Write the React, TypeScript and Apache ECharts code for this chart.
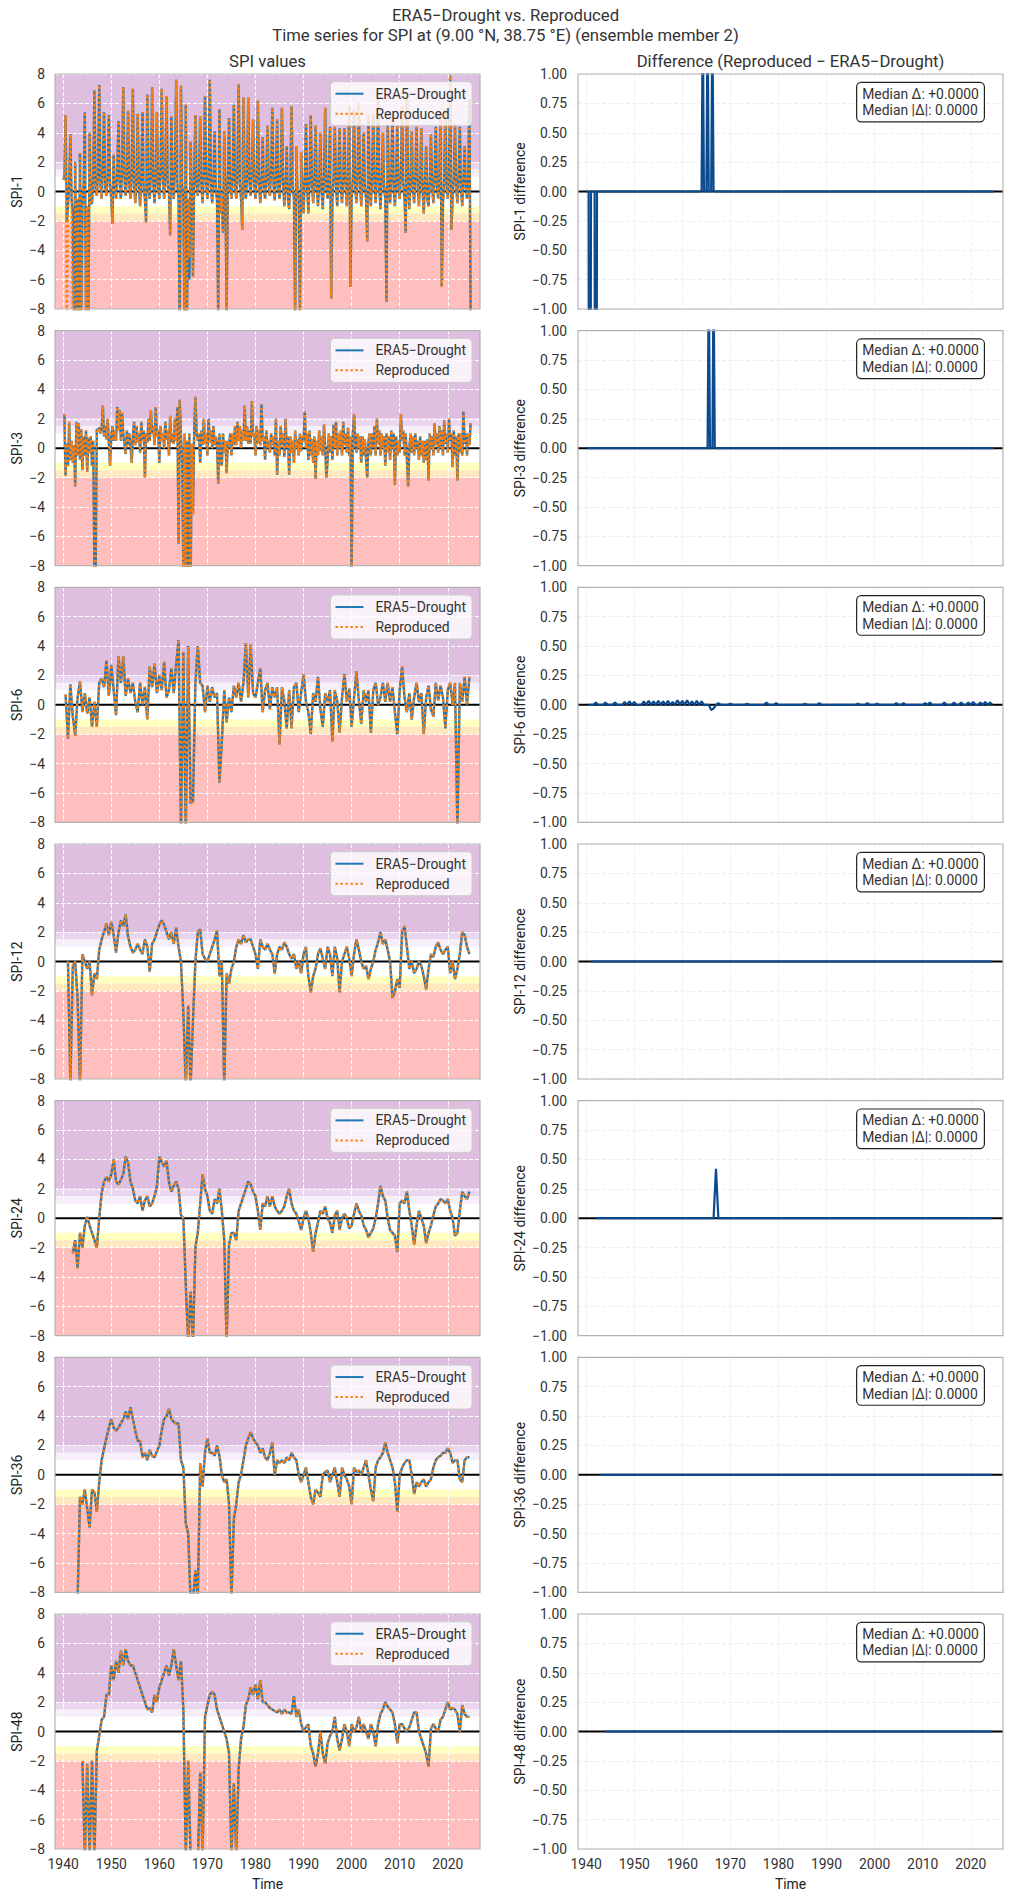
import React, { useEffect, useRef } from "react";
import * as echarts from "echarts";

// ---------- axes / labels ----------
const X_MIN = 1938.3;
const X_MAX = 2026.7;
const YEAR_TICKS = [1940, 1950, 1960, 1970, 1980, 1990, 2000, 2010, 2020];
const SPI_NAMES = ["SPI-1", "SPI-3", "SPI-6", "SPI-12", "SPI-24", "SPI-36", "SPI-48"];
const SERIES_ERA5 = "ERA5−Drought";
const SERIES_REPRO = "Reproduced";
const SUPTITLE =
  "ERA5−Drought vs. Reproduced\nTime series for SPI at (9.00 °N, 38.75 °E) (ensemble member 2)";
const LEFT_TITLE = "SPI values";
const RIGHT_TITLE = "Difference (Reproduced − ERA5−Drought)";
const MEDIAN_TEXT = "Median Δ: +0.0000\nMedian |Δ|: 0.0000";

// SPI category bands [low, high]
const BAND_LIMITS = [
  [2, 8],
  [1.5, 2],
  [1, 1.5],
  [-1.5, -1],
  [-2, -1.5],
  [-8, -2],
];

// ---------- data ----------
// SPI-1: quarterly samples from 1940.00
const SPI1_START = 1940.0;
const SPI1_STEP = 0.25;
const SPI1 = [
  0.8, 1.0, 5.2, -2.0, -1.0, 0.5, 3.9, -0.5, -1.5, -8.5, 2.0, -8.5, -0.5, -8.5, 2.6, -8.5, -1.0, 0.5, 5.4, -8.5,
  -1.0, -8.5, 4.0, -0.8, -0.8, 1.0, 6.9, 0.2, -0.3, 1.2, 7.25, 0.5, -0.5, 1.5, 5.4, 0.3, -0.3, 1.0, 5.2, 0.5,
  -0.5, -2.2, 2.5, 0.2, -0.5, 1.2, 4.8, 0.6, -0.5, 1.5, 7.1, 0.8, -0.3, 1.0, 5.5, 0.5, -0.5, 1.2, 7.0, 0.4,
  -0.8, 0.8, 5.3, 0.3, -1.0, 1.0, 5.4, 0.2, -0.5, -2.1, 6.6, 0.5, -0.5, 1.2, 7.1, 0.6, -0.8, 1.0, 5.4, 0.3,
  -0.5, 1.5, 7.0, 0.8, -0.5, 1.2, 6.5, 0.4, 0.0, -3.0, 5.1, 0.5, -0.5, 1.5, 7.6, 0.5, -0.5, -10, 7.2, 0.5,
  -0.5, -10, 5.9, -8.5, -0.5, -6.0, 3.4, 0.3, -5.8, 1.0, 5.2, 0.5, -0.3, 1.0, 5.1, 0.4, -0.8, 1.2, 6.5, 0.5,
  -0.5, 1.0, 7.6, 0.3, -0.8, 0.8, 4.1, 0.0, -0.5, -8.5, 5.6, -1.5, -0.5, -2.8, 4.1, 0.3, -8.5, 0.5, 5.0, 0.4,
  -0.5, 1.0, 5.9, 0.3, -0.5, 1.2, 7.3, 0.5, -0.5, -2.6, 6.4, 0.3, -0.5, 1.0, 6.4, 0.6, -0.3, 1.3, 4.9, 0.5,
  -0.5, 1.0, 6.2, 0.5, -0.8, 0.8, 3.7, 0.2, -0.5, 1.0, 4.5, 0.4, -0.3, 1.5, 5.7, 0.5, -0.6, 1.0, 4.9, 0.3,
  -0.5, 1.2, 5.7, 0.5, -1.0, 0.5, 3.1, -0.5, -1.2, 0.8, 5.8, 0.2, -0.5, -8.5, 3.1, 0.0, -0.5, -8.5, 2.7, 0.2,
  -1.5, 0.8, 4.6, 0.3, -1.5, 1.0, 5.2, 0.4, -0.8, 0.8, 4.5, 0.3, -1.0, 0.5, 4.0, 0.0, -1.2, 1.0, 5.7, 0.3,
  -0.5, 0.8, 4.4, -7.3, -0.5, 1.0, 4.4, 0.3, -1.0, 1.2, 4.3, 0.2, -0.8, 0.8, 4.3, 0.5, -1.0, 1.0, 5.8, -6.5,
  -0.5, 1.0, 5.6, 0.3, -0.8, 1.2, 6.0, 0.4, -1.0, 0.8, 4.0, 0.2, -0.5, -3.4, 5.2, 0.3, -1.0, 1.0, 5.3, 0.5,
  -0.8, 1.2, 6.3, 0.2, -1.2, 0.8, 4.0, 0.4, -0.5, -7.5, 4.6, 0.5, -0.8, 1.0, 5.3, 0.2, -1.0, 0.8, 4.5, 0.3,
  -0.5, 1.2, 5.8, 0.5, -0.5, -2.8, 6.6, 0.4, -1.2, 0.8, 4.1, 0.2, -0.8, 1.0, 4.4, 0.3, -1.0, 0.8, 4.3, 0.2,
  -1.5, 0.5, 3.1, -0.5, -1.0, 0.8, 3.9, 0.3, -0.8, 1.0, 4.4, 0.4, -0.5, 1.2, 5.4, -6.5, -0.8, 1.0, 5.6, 0.3,
  -0.5, 1.2, 7.9, -2.6, -0.5, 1.0, 4.6, 0.3, -0.8, 1.0, 4.4, 0.2, -1.0, 0.8, 3.1, 0.3, -0.5, 1.0, 6.3, -8.5,
];
const SPI1_DELTA = [
  [1940.75, -7.0],
  [1942.0, -7.5],
  [1964.25, 1.5],
  [1965.25, 1.5],
  [1966.25, 1.5],
];

// SPI-3: quarterly samples from 1940.25
const SPI3_START = 1940.25;
const SPI3_STEP = 0.25;
const SPI3 = [
  2.3, -1.9, 0.3,
  -1.2, 1.8, -0.8, 0.5, -1.0, 0.2, -2.6, 1.8, -0.5, 1.7, -0.8, 1.3, -1.5, 0.8, -0.5, 1.2, -1.6, 0.7, -0.3, 0.8,
  -1.2, 0.5, -8.5, -8.5, 1.3, 1.2, 1.4, 1.0, 1.3, 2.9, 0.8, 1.5, 0.6, 2.0, 0.4, -1.2, 0.8, 1.5, 0.5, 1.2,
  0.5, 2.8, 1.2, 2.6, 0.5, 2.4, 1.0, 0.3, -0.4, 1.2, 0.2, 1.0, 0.3, -1.0, 0.8, 1.8, 0.2, 1.5, 0.4, 1.0,
  -0.3, 1.8, 0.5, 1.2, -2.0, 1.0, 0.4, 2.0, 0.5, 2.6, 1.0, 1.5, 0.2, 2.8, 0.8, 1.2, -1.0, 1.5, 0.5, 1.0,
  0.0, 1.8, 0.6, 1.2, -0.5, 2.2, 0.4, 1.0, 0.3, 2.0, 0.5, 2.8, -6.5, 3.3, 0.8, -1.0, -8.5, 1.0, -10, 0.5,
  -8.5, 1.0, -10, 0.3, -4.5, 1.2, 3.5, 1.0, 0.5, 1.0, -1.0, 1.2, 0.2, 2.0, 0.3, 1.0, -0.5, 2.0, 0.4, 1.2,
  0.0, 1.5, 0.2, 0.8, 0.3, -2.4, 1.0, -0.5, -1.2, 1.0, -0.3, 0.5, -1.7, 0.5, 0.2, 1.0, -0.5, 1.0, 0.2, 1.5,
  0.2, 1.8, 0.5, 1.5, 0.0, 1.2, 0.5, 2.9, 0.5, 1.5, 0.3, 1.2, 0.3, 3.2, 0.8, 1.0, -0.5, 1.5, 0.3, 1.2,
  0.2, 3.0, 0.5, 0.8, -0.8, 1.2, 0.0, 0.5, -0.3, 1.0, 0.2, 0.8, -0.5, 2.0, -1.8, 0.5, -0.5, 1.5, 0.2, 1.0,
  -0.6, 2.0, 0.0, 0.8, -1.8, 0.8, -0.3, 0.5, -1.0, 1.2, 0.0, 0.6, -0.5, 1.0, -0.2, 0.8, 0.5, 2.5, 0.0, 1.0,
  -0.8, 1.2, -0.5, 0.6, -1.0, 0.8, -2.1, 0.5, -0.5, 1.2, -0.2, 0.8, -0.5, 1.6, 0.0, -2.0, -0.8, 1.0, -0.3, 0.8,
  -0.8, 1.6, 0.0, 1.8, -0.5, 1.0, 0.0, 1.2, -0.5, 1.8, 0.2, 1.0, -0.3, 1.4, -0.5, 0.8, -8.5, 1.0, 2.3, 0.5,
  -0.3, 1.0, 0.0, 0.8, -1.0, 0.8, -0.5, 0.6, -0.8, -2.0, 0.5, 1.0, -0.5, 1.0, 0.0, 1.5, -0.5, 2.0, 0.3, 1.2,
  -0.5, 1.0, 0.0, 0.8, -1.2, 1.0, -0.3, 0.8, -0.8, 1.2, 0.0, 1.0, -2.5, 0.8, -0.5, 0.5, -0.3, 2.3, 0.5, 1.2,
  -0.5, 1.0, -0.8, -2.6, 0.0, 1.0, -0.3, 0.8, -0.5, 1.0, 0.0, 0.5, -0.8, 0.8, -0.5, 0.5, -1.0, 0.5, -0.8, 0.6,
  -2.2, 1.0, 0.0, 0.8, -0.5, 1.7, 0.2, 1.0, -0.3, 1.5, 0.0, 1.2, -0.5, 1.9, 0.3, 1.0, -0.3, 2.0, 0.5, 1.0,
  -1.3, 1.2, -0.5, 0.8, -2.2, 1.0, -0.3, 1.0, -0.5, 2.5, 0.3, 1.0, -0.5, 1.0, 0.2, 1.7,
];
const SPI3_DELTA = [
  [1965.5, 1.5],
  [1966.5, 1.5],
];

// SPI-6: half-yearly samples from 1940.5
const SPI6_START = 1940.5;
const SPI6_STEP = 0.5;
const SPI6 = [
  0.7,
  -2.3, 1.4, -0.8, -2.1, 0.5, 1.6, -0.5, 0.8, -0.6, 0.5, -1.5, 0.2, -1.5, 1.5, 1.8, 1.2, 3.0, 0.6,
  2.7, 1.0, -0.7, 3.3, 1.5, 3.3, 0.6, 1.8, 0.8, 1.5, 0.2, -0.5, 1.5, 0.0, 1.2, -1.0, 2.6, 1.2, 2.8, 0.8,
  2.0, 1.0, 2.9, 0.5, 1.0, 2.5, 0.8, 2.8, 4.4, -8.5, 3.6, -8.5, 4.0, -6.7, -6.6, 1.5, 4.0, 1.5, 1.3, -0.5,
  1.3, 0.2, 1.2, 0.5, 0.8, -5.3, -2.5, 1.0, -1.2, 0.5, -0.5, 1.3, 0.5, 1.5, 0.2, 1.5, 4.2, 0.5, 4.1, 0.8,
  0.5, 1.5, 2.5, -0.5, 1.0, 1.5, -0.3, 1.2, 0.5, 1.2, -2.7, 1.2, 0.3, -1.6, 1.0, -1.6, 1.2, 1.5, -0.5, 0.8,
  2.1, 0.2, -0.5, -2.0, 0.8, 0.2, 1.9, -0.3, -1.5, 0.8, 0.2, 1.0, -2.5, 1.0, 0.3, -1.9, 0.5, 2.1, 0.2, 1.1,
  -1.5, 0.5, 2.3, 0.3, -1.3, 1.0, 0.2, 1.0, -1.9, 1.0, 1.5, 0.0, 0.5, 1.5, 0.2, 1.5, 0.2, 1.2, -0.5, -2.0,
  1.0, 2.6, 0.5, -0.5, 0.8, -1.0, 0.5, 1.5, 0.2, 0.8, -2.0, 0.5, 1.3, -0.3, -0.8, 1.5, 0.3, 1.3, 0.5, -1.6,
  1.0, 1.5, 0.0, 1.5, -8.5, 1.5, 0.2, 1.9, 0.0, 1.9,
];
const SPI6_DELTA = [
  [1942.0, 0.02], [1944.0, 0.02], [1946.0, 0.02], [1948.0, 0.025], [1949.0, 0.03], [1950.0, 0.025],
  [1952.0, 0.03], [1953.0, 0.035], [1954.0, 0.03], [1955.0, 0.035], [1956.0, 0.03], [1957.0, 0.035],
  [1958.0, 0.025], [1959.0, 0.04], [1960.0, 0.035], [1961.0, 0.04], [1962.0, 0.03], [1963.0, 0.035],
  [1964.0, 0.03], [1966.0, -0.045], [1966.5, -0.03], [1967.5, 0.015], [1970.0, 0.01], [1973.5, 0.01],
  [1977.5, 0.02], [1979.5, 0.015], [1985.5, 0.01], [1988.5, 0.015], [1996.5, 0.01], [1998.5, 0.015],
  [2000.5, 0.01], [2004.5, 0.015], [2006.0, 0.015], [2010.5, 0.015], [2011.5, 0.02], [2014.5, 0.02],
  [2016.5, 0.02], [2018.0, 0.02], [2019.5, 0.02], [2020.5, 0.025], [2022.0, 0.02], [2023.0, 0.025],
  [2024.0, 0.02],
];

// SPI-12: half-yearly samples from 1941.0
const SPI12_START = 1941.0;
const SPI12_STEP = 0.5;
const SPI12 = [
  0.0, -8.5, -0.3, 0.0, -2.5, -8.5, 0.5, 0.0, -0.5, 0.0, -2.3, -0.8, -1.2, 0.8, 1.5, 2.0, 2.6, 1.8,
  2.7, 1.8, 0.6, 2.0, 2.8, 2.4, 3.2, 1.7, 1.0, 0.6, 0.8, 1.2, 0.8, 0.5, 1.5, 1.0, -0.7, 1.2, 1.5, 2.0,
  2.5, 2.8, 2.5, 2.0, 1.5, 2.0, 1.2, 2.3, 1.0, 0.0, -3.5, -8.5, -3.0, -8.5, -4.0, 0.0, 2.0, 2.2, 0.5, 0.2,
  0.0, 0.5, 1.0, 1.5, 2.1, -1.0, 0.0, -8.5, -0.8, -1.5, -0.5, 0.0, 1.0, 1.5, 1.2, 1.8, 1.3, 1.5, 1.5, 1.0,
  0.5, -0.5, 1.5, 1.0, 0.8, 1.2, 0.8, 0.5, -0.8, 0.5, 1.0, 0.8, 1.3, 1.0, 0.5, 0.2, 0.5, -0.5, 0.0, -0.8,
  0.5, 1.0, -1.0, -2.1, -1.0, -0.5, 0.5, 0.9, 0.2, -0.5, 1.0, 0.5, -1.0, 1.0, 0.2, -2.1, 0.0, 0.5, 1.0, 0.2,
  -1.0, 0.5, 1.5, 0.8, 0.0, -0.5, -0.3, -1.2, -0.5, 0.0, 0.8, 1.3, 2.0, 1.2, 1.5, 0.8, 0.0, -2.5, -2.0, -1.2,
  -1.8, 2.0, 2.4, 1.0, -0.5, 0.0, -0.8, -0.5, 0.0, -0.3, -1.0, -1.9, -0.5, 0.5, 0.3, 1.0, 1.3, 0.8, 0.5, 0.8,
  1.0, -0.8, 0.0, -1.2, -0.5, 0.5, 2.0, 1.8, 1.0, 0.5,
];

// SPI-24: half-yearly samples from 1942.0
const SPI24_START = 1942.0;
const SPI24_STEP = 0.5;
const SPI24 = [
  -2.4, -1.5, -3.4, -1.0, -2.0, -0.5, 0.1, -0.5, -1.0, -1.5, -2.0, 0.0, 1.7, 2.5, 2.8, 2.5,
  3.0, 4.0, 2.5, 2.3, 2.6, 3.0, 4.2, 3.8, 2.5, 2.0, 1.2, 1.0, 1.5, 0.5, 1.2, 1.5, 0.8, 1.0, 1.5, 2.2,
  4.2, 3.8, 3.5, 3.9, 2.5, 1.8, 2.2, 2.5, 2.0, 0.2, 0.0, -4.5, -8.5, -5.0, -8.5, -2.0, -1.0, 1.0, 3.0, 2.0,
  1.5, 0.5, 0.3, 1.3, 1.0, 2.0, 0.5, -1.5, -8.5, -1.8, -1.0, -1.0, -1.5, 0.5, 1.0, 1.5, 2.0, 2.5, 2.3, 1.8,
  1.5, 0.5, -0.8, 1.0, 0.8, 1.5, 0.8, 1.5, 0.8, 0.5, 0.3, 0.5, 0.8, 1.5, 2.0, 1.0, 0.5, 0.3, -0.2, -0.8,
  0.0, 0.5, 0.0, -1.0, -2.3, -1.0, -0.3, 0.5, 0.3, 0.8, 0.0, -0.3, -1.0, 0.2, 0.5, -0.8, 0.0, 0.3, 0.0, -0.7,
  -0.5, 0.3, 1.0, 0.5, 0.2, -0.5, -0.8, -1.3, -1.0, -0.7, 0.0, 1.0, 2.2, 1.5, 1.2, 0.0, -0.8, -1.0, -1.2, -2.3,
  1.0, 1.2, 1.0, 1.8, 0.5, -0.5, -1.8, -0.5, 0.5, 0.0, -0.5, -1.7, -1.0, -0.5, 0.2, 0.8, 1.0, 1.3, 1.2, 1.0,
  1.3, 0.5, 0.0, -1.2, -1.0, 0.5, 1.8, 1.5, 1.3, 1.8,
];
const SPI24_DELTA = [[1967.0, 0.42]];

// SPI-36: half-yearly samples from 1943.0
const SPI36_START = 1943.0;
const SPI36_STEP = 0.5;
const SPI36 = [
  -8.5, -1.5, -2.0, -1.0, -2.3, -3.6, -1.0, -1.2, -2.5, -0.5, 1.0, 1.8, 2.5, 3.2,
  3.8, 3.2, 3.0, 3.2, 3.5, 3.8, 4.3, 3.8, 4.6, 3.8, 3.0, 2.3, 2.3, 1.2, 1.5, 1.0, 1.7, 1.3, 1.2, 1.6,
  2.0, 3.0, 3.8, 4.0, 4.5, 3.8, 3.6, 3.5, 3.5, 1.0, 0.5, -3.3, -4.0, -8.5, -8.5, -6.5, -8.5, 0.8, -0.8, 1.5,
  2.5, 1.5, 1.5, 1.3, 2.0, 1.3, 0.0, -0.5, -0.3, -2.0, -8.5, -3.0, -2.0, -0.5, 0.0, 1.0, 2.0, 2.5, 2.9, 2.5,
  2.2, 2.0, 1.5, 1.8, 1.2, 1.0, 1.5, 2.2, 0.0, 1.0, 0.8, 1.0, 0.8, 1.2, 1.0, 1.5, 1.2, 1.0, 0.0, -0.5,
  0.0, 0.5, -0.5, -1.5, -2.0, -1.0, -1.2, -1.5, 0.0, 0.2, 0.3, -0.5, 0.0, 0.5, -0.5, -1.5, 0.5, 0.0, -0.3, -0.8,
  -2.0, 0.5, 0.2, 0.3, 0.0, 0.5, 1.0, 0.0, -1.0, -1.8, 0.5, 1.0, 1.2, 1.5, 2.2, 1.5, 1.0, 0.5, -0.5, -2.5,
  0.0, 0.5, 0.8, 1.0, 1.0, 0.0, -1.3, -0.5, -0.8, -0.5, -0.3, -0.8, -0.5, -0.3, 0.5, 1.0, 1.2, 1.3, 1.5, 1.5,
  1.8, 1.5, 0.8, 1.0, 1.0, -0.3, -0.5, 1.0, 1.2, 1.2,
];

// SPI-48: half-yearly samples from 1944.0
const SPI48_START = 1944.0;
const SPI48_STEP = 0.5;
const SPI48 = [
  -2.0, -8.5, -2.2, -8.5, -2.0, -8.5, -1.3, -0.3, 0.8, 1.0, 2.5, 2.5,
  4.5, 3.5, 4.8, 4.0, 5.5, 4.5, 5.6, 4.8, 4.5, 4.5, 4.0, 3.5, 3.0, 2.5, 2.0, 1.5, 1.6, 1.3, 2.5, 2.0,
  3.0, 3.5, 4.0, 4.5, 3.8, 4.5, 5.6, 4.5, 3.5, 4.8, 1.5, -8.5, -2.0, -8.5, -9.0, -9.0, -9.0, -2.8, -8.5, 1.0,
  1.8, 2.5, 2.7, 2.5, 1.5, 1.0, 0.5, 0.0, -0.5, -1.5, -8.5, -3.5, -8.5, -2.5, -0.5, 0.3, 1.8, 2.2, 3.0, 2.5,
  3.2, 2.2, 3.5, 2.0, 2.0, 1.8, 1.6, 1.5, 1.4, 1.3, 1.5, 1.2, 1.5, 1.3, 1.3, 1.2, 2.4, 1.0, 1.5, 0.5,
  0.0, 0.3, 0.5, -1.0, -1.5, -2.4, -1.5, 0.0, -1.5, -2.2, -0.8, -0.3, 0.0, 1.0, -0.5, -1.3, -0.5, 0.5, 0.0, -1.0,
  0.5, 0.0, 0.3, 1.0, 0.0, 0.5, 0.0, -0.5, 0.5, 0.0, -1.0, 0.5, 1.2, 1.5, 2.0, 1.7, 1.5, 1.3, 0.5, -0.8,
  0.5, 0.5, 0.2, 0.0, 0.3, 0.8, 1.3, 1.3, 0.0, -0.5, -1.0, -1.5, -2.4, 0.2, 0.5, 0.2, 0.0, 0.8, 1.0, 1.5,
  2.0, 1.5, 1.6, 1.5, 1.2, 0.0, 1.8, 1.2, 1.0, 1.0,
];

const PANEL_DATA = [
  { start: SPI1_START, step: SPI1_STEP, values: SPI1, delta: SPI1_DELTA },
  { start: SPI3_START, step: SPI3_STEP, values: SPI3, delta: SPI3_DELTA },
  { start: SPI6_START, step: SPI6_STEP, values: SPI6, delta: SPI6_DELTA },
  { start: SPI12_START, step: SPI12_STEP, values: SPI12, delta: [] as number[][] },
  { start: SPI24_START, step: SPI24_STEP, values: SPI24, delta: SPI24_DELTA },
  { start: SPI36_START, step: SPI36_STEP, values: SPI36, delta: [] as number[][] },
  { start: SPI48_START, step: SPI48_STEP, values: SPI48, delta: [] as number[][] },
];

// ---------- styling ----------
const FONT = "Roboto";
const TXT = "#333333";
const BAND_COLORS = ["#dfbfdf", "#ead6ef", "#f6eef8", "#ffffbf", "#ffe8bf", "#ffbfbf"];
const C_ERA5 = "#1f77b4";
const C_REPRO = "#ff7f0e";
const C_DIFF = "#0b4a8f";
const LEFT_X = 55;
const RIGHT_X = 578;
const PANEL_W = 425;
const PANEL_H = 235;
const TOP0 = 74;
const ROW_STEP = 256.67;

function buildPanel(start: number, step: number, values: number[], delta: number[][]) {
  const dmap = new Map<number, number>();
  delta.forEach(([t, v]) => dmap.set(Math.round((t - start) / step), v));
  const era: number[][] = [];
  const rep: number[][] = [];
  const diff: number[][] = [];
  values.forEach((v, i) => {
    const t = +(start + i * step).toFixed(3);
    const dv = dmap.get(i) ?? 0;
    era.push([t, v]);
    rep.push([t, v + dv]);
    diff.push([t, dv]);
  });
  return { era, rep, diff };
}

const minus = (s: string) => s.replace("-", "−");

function buildOption() {
  const grid: any[] = [];
  const xAxis: any[] = [];
  const yAxis: any[] = [];
  const series: any[] = [];
  const legend: any[] = [];
  const graphic: any[] = [];

  PANEL_DATA.forEach((p, i) => {
    const top = TOP0 + i * ROW_STEP;
    const isBottom = i === PANEL_DATA.length - 1;
    const { era, rep, diff } = buildPanel(p.start, p.step, p.values, p.delta);
    const gl = 2 * i;
    const gr = 2 * i + 1;

    [LEFT_X, RIGHT_X].forEach((left) => {
      grid.push({
        left,
        top,
        width: PANEL_W,
        height: PANEL_H,
        show: true,
        borderColor: "#b3b3b3",
        borderWidth: 1.2,
        backgroundColor: "transparent",
        z: 5,
      });
    });

    [gl, gr].forEach((g, k) => {
      xAxis.push({
        type: "value",
        gridIndex: g,
        min: X_MIN,
        max: X_MAX,
        z: 1,
        axisLine: { show: false },
        axisTick: { show: false, customValues: YEAR_TICKS },
        axisLabel: {
          show: isBottom,
          customValues: YEAR_TICKS,
          color: TXT,
          fontSize: 13.9,
          fontFamily: FONT,
          margin: 8,
          formatter: (v: number) => String(Math.round(v)),
        },
        splitLine: {
          show: true,
          lineStyle: k === 0
            ? { color: "#ffffff", width: 1, type: [4, 2] }
            : { color: "#ebebeb", width: 0.8, type: [4, 2] },
        },
        name: isBottom ? "Time" : "",
        nameLocation: "middle",
        nameGap: 28,
        nameTextStyle: { color: "#222", fontSize: 13.9, fontFamily: FONT },
      });
    });

    yAxis.push({
      type: "value",
      gridIndex: gl,
      min: -8,
      max: 8,
      interval: 2,
      z: 1,
      axisLine: { show: false },
      axisTick: { show: false },
      axisLabel: {
        color: TXT,
        fontSize: 13.9,
        fontFamily: FONT,
        margin: 10,
        formatter: (v: number) => minus(String(v)),
      },
      splitLine: { show: true, lineStyle: { color: "#ffffff", width: 1, type: [4, 2] } },
      name: SPI_NAMES[i],
      nameLocation: "middle",
      nameRotate: 90,
      nameGap: 31,
      nameTextStyle: { color: "#222", fontSize: 13.9, fontFamily: FONT },
    });
    yAxis.push({
      type: "value",
      gridIndex: gr,
      min: -1,
      max: 1,
      interval: 0.25,
      z: 1,
      axisLine: { show: false },
      axisTick: { show: false },
      axisLabel: {
        color: TXT,
        fontSize: 13.9,
        fontFamily: FONT,
        margin: 11,
        formatter: (v: number) => minus(v.toFixed(2)),
      },
      splitLine: { show: true, lineStyle: { color: "#ebebeb", width: 0.8, type: [4, 2] } },
      name: SPI_NAMES[i] + " difference",
      nameLocation: "middle",
      nameRotate: 90,
      nameGap: 51,
      nameTextStyle: { color: "#222", fontSize: 13.9, fontFamily: FONT },
    });

    // left: zero line + SPI bands
    series.push({
      type: "line",
      xAxisIndex: gl,
      yAxisIndex: gl,
      data: [[X_MIN, 0], [X_MAX, 0]],
      symbol: "none",
      silent: true,
      z: 2,
      lineStyle: { color: "#000", width: 2 },
      markArea: {
        silent: true,
        z: 0,
        label: { show: false },
        data: BAND_LIMITS.map(([lo, hi], k) => [
          { yAxis: lo, itemStyle: { color: BAND_COLORS[k] } },
          { yAxis: hi },
        ]),
      },
    });
    series.push({
      name: SERIES_ERA5,
      type: "line",
      xAxisIndex: gl,
      yAxisIndex: gl,
      data: era,
      symbol: "none",
      silent: true,
      z: 3,
      itemStyle: { color: C_ERA5 },
      lineStyle: { color: C_ERA5, width: 2.4 },
    });
    series.push({
      name: SERIES_REPRO,
      type: "line",
      xAxisIndex: gl,
      yAxisIndex: gl,
      data: rep,
      symbol: "none",
      silent: true,
      z: 3,
      itemStyle: { color: C_REPRO },
      lineStyle: { color: C_REPRO, width: 2.4, type: [2.4, 2.6] },
    });
    // right: zero line + difference
    series.push({
      type: "line",
      xAxisIndex: gr,
      yAxisIndex: gr,
      data: [[X_MIN, 0], [X_MAX, 0]],
      symbol: "none",
      silent: true,
      z: 2,
      lineStyle: { color: "#000", width: 2 },
    });
    series.push({
      type: "line",
      xAxisIndex: gr,
      yAxisIndex: gr,
      data: diff,
      symbol: "none",
      silent: true,
      z: 3,
      lineStyle: { color: C_DIFF, width: 2.2 },
    });

    legend.push({
      orient: "vertical",
      right: 1011 - 472,
      top: top + 7.7,
      itemWidth: 28,
      itemHeight: 14,
      itemGap: 6,
      padding: [5, 6, 5, 4],
      backgroundColor: "rgba(255,255,255,0.8)",
      borderColor: "#cccccc",
      borderWidth: 1,
      borderRadius: 4,
      selectedMode: false,
      itemStyle: { opacity: 0 },
      textStyle: { color: TXT, fontSize: 13.9, fontFamily: FONT, padding: [0, 0, 0, 7] },
      data: [SERIES_ERA5, SERIES_REPRO],
      z: 6,
    });

    graphic.push({
      type: "text",
      right: 1011 - 985,
      top: top + 7.7,
      z: 10,
      style: {
        text: MEDIAN_TEXT,
        fontSize: 13.9,
        fontFamily: FONT,
        fill: TXT,
        align: "right",
        lineHeight: 16.7,
        backgroundColor: "#ffffff",
        borderColor: "#222222",
        borderWidth: 1.2,
        borderRadius: 4,
        padding: [2.5, 5],
      },
    });
  });

  return {
    animation: false,
    backgroundColor: "#ffffff",
    textStyle: { fontFamily: FONT },
    title: [
      {
        text: SUPTITLE,
        left: 505.5,
        top: 6,
        padding: 0,
        textAlign: "center",
        textStyle: { fontSize: 16.7, fontWeight: "normal", color: TXT, lineHeight: 19.5, fontFamily: FONT },
      },
      {
        text: LEFT_TITLE,
        left: LEFT_X + PANEL_W / 2,
        top: 51,
        padding: 0,
        textAlign: "center",
        textStyle: { fontSize: 16.7, fontWeight: "normal", color: TXT, lineHeight: 20, fontFamily: FONT },
      },
      {
        text: RIGHT_TITLE,
        left: RIGHT_X + PANEL_W / 2,
        top: 51,
        padding: 0,
        textAlign: "center",
        textStyle: { fontSize: 16.7, fontWeight: "normal", color: TXT, lineHeight: 20, fontFamily: FONT },
      },
    ],
    grid,
    xAxis,
    yAxis,
    legend,
    graphic,
    series,
  };
}

export default function App() {
  const ref = useRef<HTMLDivElement>(null);
  useEffect(() => {
    if (!ref.current) return;
    const chart = echarts.init(ref.current, null, { renderer: "svg" });
    chart.setOption(buildOption() as any);
    return () => chart.dispose();
  }, []);
  return (
    <div
      ref={ref}
      style={{ position: "absolute", left: 0, top: 0, width: 1011, height: 1901 }}
    />
  );
}
